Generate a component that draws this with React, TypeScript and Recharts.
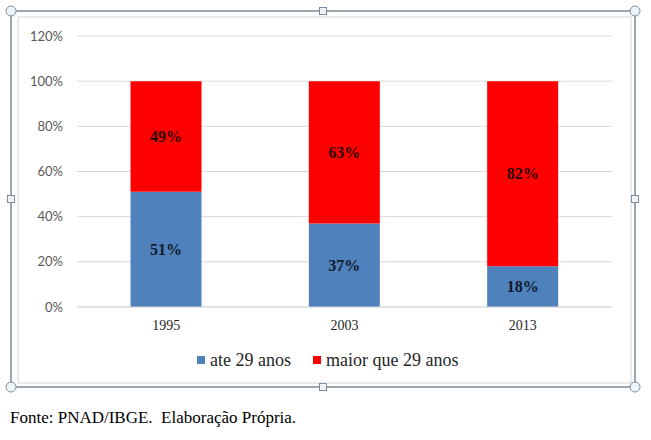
import React from 'react';
import { BarChart, Bar, XAxis, YAxis, CartesianGrid, LabelList } from 'recharts';

const YEARS = ['1995', '2003', '2013'];
const ATE_29 = [51, 37, 18];
const MAIOR_29 = [49, 63, 82];
const Y_TICKS = [0, 20, 40, 60, 80, 100, 120];

const BLUE = '#4f81bd';
const RED = '#ff0000';
const SERIF = '"Liberation Serif", "Times New Roman", serif';
const SANS = 'Lato, "Open Sans", sans-serif';

const SERIES = [
  { key: 'ate', name: 'ate 29 anos', color: BLUE, x: 197 },
  { key: 'maior', name: 'maior que 29 anos', color: RED, x: 313 },
];

const data = YEARS.map((year, i) => ({
  year,
  ate: ATE_29[i],
  maior: MAIOR_29[i],
}));

const pct = (v: any) => `${v}%`;

// selection frame, legend and source note drawn over the chart
function Overlay() {
  const handle = '#7f8f9e';
  const corners = [
    [11, 11],
    [635, 11],
    [11, 387],
    [635, 387],
  ];
  const mids = [
    [323, 11],
    [11, 199],
    [635, 199],
    [323, 387],
  ];
  return (
    <svg width={651} height={440} style={{ position: 'absolute', left: 0, top: 0, pointerEvents: 'none' }}>
      <rect x={18} y={17} width={613} height={366} fill="none" stroke="#e2e4e6" strokeWidth={1.5} />
      <rect x={11} y={11} width={624} height={376} fill="none" stroke="#5b6e7d" strokeWidth={1.2} />
      {corners.map(([cx, cy], i) => (
        <circle key={`c-${i}`} cx={cx} cy={cy} r={5} fill="#eef3f8" stroke={handle} strokeWidth={1} />
      ))}
      {mids.map(([cx, cy], i) => (
        <rect key={`m-${i}`} x={cx - 3.5} y={cy - 3.5} width={7} height={7} fill="#eef3f8" stroke={handle} strokeWidth={1} />
      ))}

      {SERIES.map((s) => (
        <g key={s.key}>
          <rect x={s.x} y={356} width={8} height={8} fill={s.color} />
          <text x={s.x + 13} y={366} fontFamily={SERIF} fontSize={18} fill="#262626">
            {s.name}
          </text>
        </g>
      ))}

      <text x={10} y={423} fontFamily={SERIF} fontSize={17} fill="#000" style={{ whiteSpace: 'pre' }}>
        {'Fonte: PNAD/IBGE.\u00a0\u00a0Elaboração Própria.'}
      </text>
    </svg>
  );
}

export default function App() {
  return (
    <div style={{ position: 'fixed', left: 0, top: 0, width: 651, height: 440, background: '#fff', overflow: 'hidden' }}>
      <div style={{ position: 'absolute', left: 0, top: 0 }}>
        <BarChart
          width={651}
          height={440}
          data={data}
          barCategoryGap="30%"
          margin={{ top: 36, right: 39, left: 17, bottom: 103 }}
        >
          <CartesianGrid vertical={false} stroke="#d9d9d9" strokeWidth={1} />
          <XAxis
            dataKey="year"
            axisLine={{ stroke: '#d9d9d9' }}
            tickLine={false}
            tickMargin={7}
            height={30}
            tick={{ fill: '#262626', fontSize: 14, fontFamily: SERIF }}
          />
          <YAxis
            domain={[0, 120]}
            ticks={Y_TICKS}
            tickFormatter={pct}
            axisLine={false}
            tickLine={false}
            tickMargin={8}
            width={60}
            tick={{ fill: '#595959', fontSize: 13, fontFamily: SANS }}
          />
          {SERIES.map((s, idx) => (
            <Bar key={s.key} dataKey={s.key} name={s.name} stackId="a" fill={s.color} isAnimationActive={false}>
              <LabelList
                dataKey={s.key}
                position="center"
                formatter={pct}
                style={{
                  fill: idx === 0 ? '#101a2a' : '#2a0000',
                  fontSize: 16,
                  fontWeight: 'bold',
                  fontFamily: SERIF,
                }}
              />
            </Bar>
          ))}
        </BarChart>
      </div>

      <Overlay />
    </div>
  );
}
